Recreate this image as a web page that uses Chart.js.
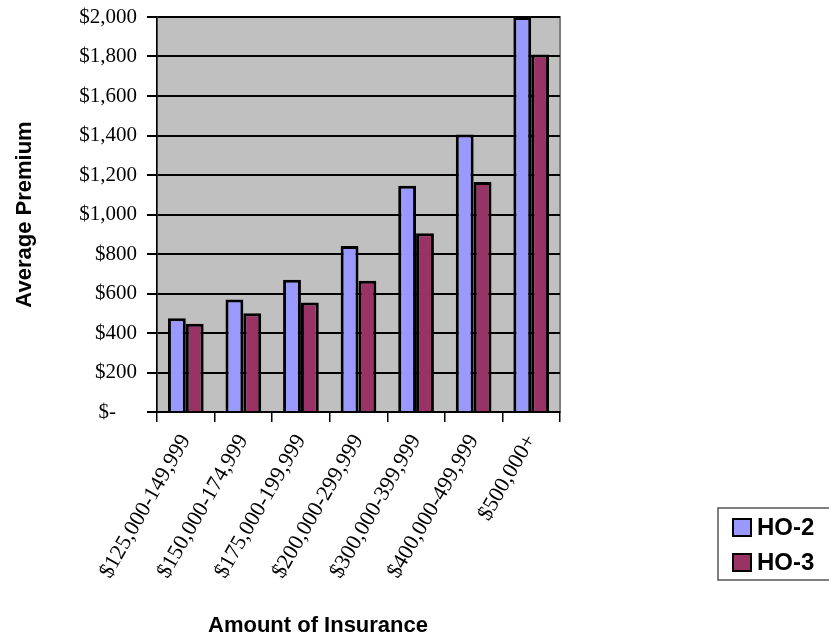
<!DOCTYPE html>
<html>
<head>
<meta charset="utf-8">
<script src="https://cdn.jsdelivr.net/npm/chart.js@4/dist/chart.umd.min.js"></script>
<style>
  html, body { margin: 0; padding: 0; background: #fff; }
  #wrap { position: relative; width: 829px; height: 639px; }
</style>
</head>
<body>
<div id="wrap"><canvas id="chart" width="829" height="639"></canvas></div>
<script>
// data
const categories = ['$125,000-149,999', '$150,000-174,999', '$175,000-199,999',
    '$200,000-299,999', '$300,000-399,999', '$400,000-499,999', '$500,000+'];
const ho2Values = [475, 570, 670, 840, 1145, 1405, 2000];
const ho3Values = [447, 500, 555, 665, 905, 1165, 1810];
const seriesNames = ['HO-2', 'HO-3'];
const xTitle = 'Amount of Insurance';
const yTitle = 'Average Premium';
const yTickMax = 2000;
const yTickStep = 200;

const SERIF = '"Times New Roman", "Liberation Serif", serif';
const SANS = 'Arial, "Liberation Sans", sans-serif';

// gray plot wall behind the bars
const wallPlugin = {
    id: 'wall',
    beforeDraw(chart) {
        const { ctx, chartArea: a } = chart;
        ctx.save();
        ctx.fillStyle = '#c0c0c0';
        ctx.fillRect(a.left, a.top, a.right - a.left, a.bottom - a.top);
        ctx.strokeStyle = '#808080';
        ctx.lineWidth = 2;
        ctx.strokeRect(a.left, a.top, a.right - a.left, a.bottom - a.top);
        ctx.restore();
    }
};

// x title sits left of the plot centre in the original, and a boxed legend at lower right
const extrasPlugin = {
    id: 'extras',
    afterDraw(chart) {
        const { ctx } = chart;
        ctx.save();
        ctx.fillStyle = '#000';
        ctx.font = 'bold 22px ' + SANS;
        ctx.textAlign = 'center';
        ctx.textBaseline = 'middle';
        ctx.fillText(xTitle, 318, 626);

        const x = 718, y = 508, w = 120, h = 72;
        ctx.strokeStyle = '#555';
        ctx.lineWidth = 1.5;
        ctx.strokeRect(x, y, w, h);
        ctx.font = 'bold 24px ' + SANS;
        ctx.textAlign = 'left';
        chart.data.datasets.forEach((ds, i) => {
            const cy = y + 19 + i * 35;
            ctx.fillStyle = ds.backgroundColor;
            ctx.fillRect(x + 15, cy - 8, 18, 17);
            ctx.strokeStyle = '#000';
            ctx.lineWidth = 2;
            ctx.strokeRect(x + 15, cy - 8, 18, 17);
            ctx.fillStyle = '#000';
            ctx.fillText(ds.label, x + 39, cy + 1);
        });
        ctx.restore();
    }
};

const ctx = document.getElementById('chart').getContext('2d');
new Chart(ctx, {
    type: 'bar',
    data: {
        labels: categories,
        datasets: [
            {
                label: seriesNames[0],
                data: ho2Values,
                backgroundColor: '#9999ff',
                borderColor: '#000',
                borderWidth: 3
            },
            {
                label: seriesNames[1],
                data: ho3Values,
                backgroundColor: '#993366',
                borderColor: '#000',
                borderWidth: 3
            }
        ]
    },
    options: {
        responsive: false,
        animation: false,
        layout: { padding: { left: 12, right: 269, top: 17, bottom: 0 } },
        datasets: {
            bar: { categoryPercentage: 0.62, barPercentage: 1.0 }
        },
        plugins: {
            legend: { display: false },
            tooltip: { enabled: false }
        },
        scales: {
            x: {
                grid: { drawOnChartArea: false, color: '#000', lineWidth: 1.5, tickLength: 10 },
                border: { color: '#000', width: 1.5 },
                ticks: {
                    color: '#000',
                    font: { family: SERIF, size: 22 },
                    minRotation: 60,
                    maxRotation: 60,
                    padding: 8,
                    autoSkip: false
                },
                afterFit(scale) { scale.height = 639 - 412; }
            },
            y: {
                min: 0,
                max: yTickMax,
                grid: { color: '#000', lineWidth: 2, tickLength: 10 },
                border: { color: '#000', width: 1.5 },
                ticks: {
                    stepSize: yTickStep,
                    color: '#000',
                    padding: 10,
                    font: { family: SERIF, size: 21 },
                    callback: v => v === 0 ? '$-    ' : '$' + v.toLocaleString('en-US')
                },
                title: {
                    display: true,
                    text: yTitle,
                    color: '#000',
                    font: { family: SANS, size: 22, weight: 'bold' },
                    padding: { top: 0, bottom: 0 }
                },
                afterFit(scale) {
                    scale.width = 157 - 12;
                    scale.paddingTop = 0;
                }
            }
        }
    },
    plugins: [wallPlugin, extrasPlugin]
});
</script>
</body>
</html>
